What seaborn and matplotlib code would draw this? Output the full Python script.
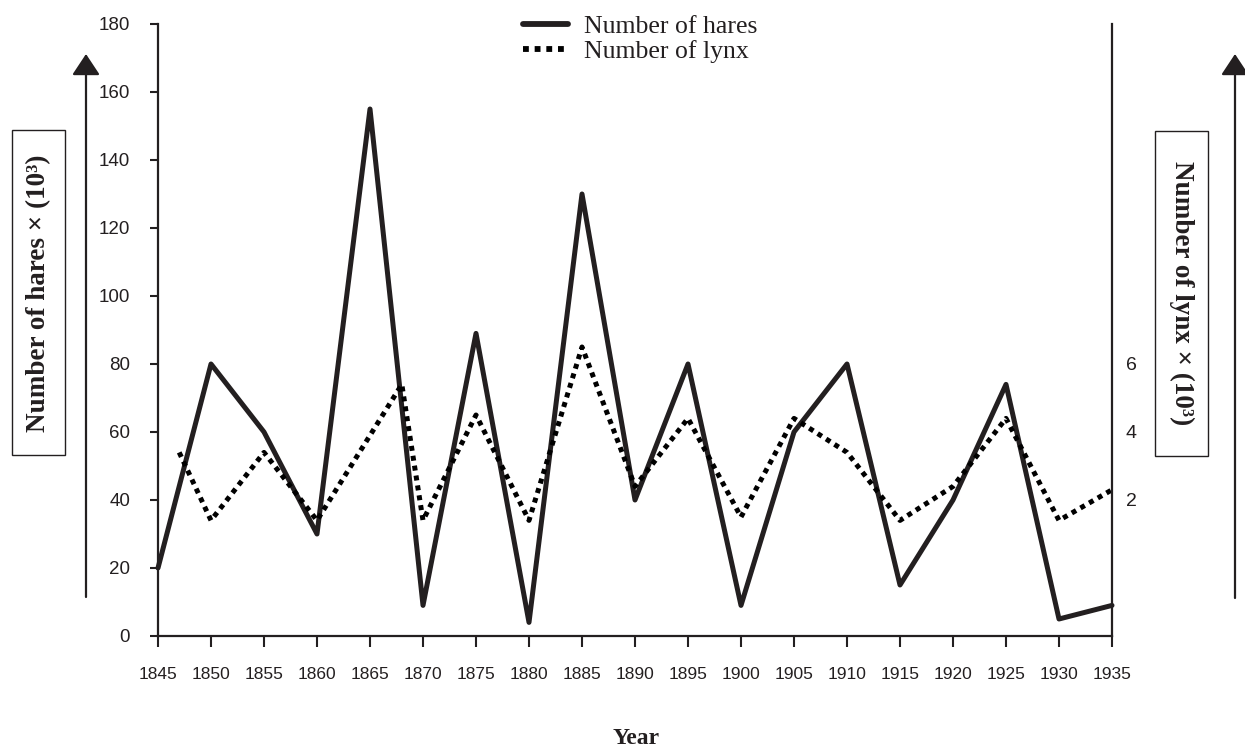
import matplotlib
matplotlib.use("Agg")
import matplotlib.pyplot as plt
import seaborn as sns
from matplotlib.patches import Rectangle, FancyArrowPatch
from matplotlib.lines import Line2D

# ---------------- data ----------------
hare_years = [1845, 1850, 1855, 1860, 1865, 1870, 1875, 1880, 1885, 1890,
              1895, 1900, 1905, 1910, 1915, 1920, 1925, 1930, 1935]
hares = [20, 80, 60, 30, 155, 9, 89, 4, 130, 40,
         80, 9, 60, 80, 15, 40, 74, 5, 9]          # x 10^3

lynx_years = [1847, 1850, 1855, 1860, 1868, 1870, 1875, 1880, 1885, 1890,
              1895, 1900, 1905, 1910, 1915, 1920, 1925, 1930, 1935]
lynx = [3.4, 1.4, 3.4, 1.4, 5.4, 1.4, 4.5, 1.4, 6.5, 2.4,
        4.4, 1.5, 4.4, 3.4, 1.4, 2.4, 4.4, 1.4, 2.3]  # x 10^3

x_ticks = list(range(1845, 1940, 5))
hare_ticks = list(range(0, 200, 20))
lynx_ticks = [2, 4, 6]

legend_labels = ["Number of hares", "Number of lynx"]
hare_label = "Number of hares × (10³)"
lynx_label = "Number of lynx × (10³)"
x_label = "Year"

# ---------------- style ----------------
sns.set_style("white")
INK = "#231f20"
plt.rcParams["font.family"] = ["Liberation Sans", "DejaVu Sans"]
SERIF = ["Liberation Serif", "DejaVu Serif"]

W, H = 1245, 750
fig = plt.figure(figsize=(W / 100, H / 100), dpi=100)
fig.patch.set_facecolor("white")


def fx(px):
    return px / W


def fy(py):
    return 1 - py / H


ax = fig.add_axes([fx(158), fy(636), fx(1112 - 158), (636 - 24) / H])
ax.set_facecolor("none")

sns.lineplot(x=hare_years, y=hares, ax=ax, color=INK, linewidth=3.6,
             solid_joinstyle="round", solid_capstyle="round", clip_on=False)

ax.set_xlim(1845, 1935)
ax.set_ylim(0, 180)
ax.set_xticks(x_ticks)
ax.set_xticklabels([str(t) for t in x_ticks], fontsize=12.5, color=INK)
ax.set_yticks(hare_ticks)
ax.set_yticklabels([str(t) for t in hare_ticks], fontsize=13.5, color=INK)
ax.tick_params(axis="x", direction="out", length=8, width=1.5, color=INK,
               pad=14, bottom=True)
ax.tick_params(axis="y", direction="out", length=6, width=1.5, color=INK,
               pad=14, left=True)
for s in ["top", "right"]:
    ax.spines[s].set_visible(False)
for s in ["left", "bottom"]:
    ax.spines[s].set_color(INK)
    ax.spines[s].set_linewidth(1.6)
ax.set_xlabel("")
ax.set_ylabel("")

ax2 = ax.twinx()
ax2.set_facecolor("none")
sns.lineplot(x=lynx_years, y=lynx, ax=ax2, color="black", linewidth=3.6,
             linestyle=(0, (1, 1)), clip_on=False)
ax2.set_ylim(-2, 16)
ax2.set_yticks(lynx_ticks)
ax2.set_yticklabels([str(t) for t in lynx_ticks], fontsize=14, color=INK)
ax2.tick_params(axis="y", length=0, pad=10, right=True)
for s in ["top", "left", "bottom"]:
    ax2.spines[s].set_visible(False)
ax2.spines["right"].set_color(INK)
ax2.spines["right"].set_linewidth(1.6)
ax2.set_ylabel("")

# legend
handles = [Line2D([], [], color=INK, lw=4.2, solid_capstyle="round"),
           Line2D([], [], color="black", lw=4.2, linestyle=(0, (1, 1)))]
fig.legend(handles, legend_labels, loc="upper center",
           bbox_to_anchor=(fx(640), fy(0)), frameon=False,
           prop={"family": SERIF, "size": 18.5}, handlelength=1.75,
           handletextpad=0.6, labelspacing=0.05, borderpad=0.1,
           labelcolor=INK)

# x label
fig.text(fx(636), fy(738), x_label, family=SERIF, fontweight="bold",
         fontsize=17, color=INK, ha="center", va="center")

# left boxed label and arrow
fig.add_artist(Rectangle((fx(12), fy(455)), fx(65 - 12), (455 - 130) / H,
                         transform=fig.transFigure, fill=False,
                         edgecolor=INK, linewidth=1.0))
fig.text(fx(39), fy(293), hare_label, family=SERIF, fontweight="bold",
         fontsize=19.5, color=INK, rotation=90, ha="center", va="center")
fig.add_artist(FancyArrowPatch((fx(86), fy(597)), (fx(86), fy(54)),
                               transform=fig.transFigure,
                               arrowstyle="-|>,head_length=0.65,head_width=0.43",
                               mutation_scale=20, color=INK, lw=1.6,
                               shrinkA=0, shrinkB=0))

# right boxed label and arrow
fig.add_artist(Rectangle((fx(1155), fy(456)), fx(1208 - 1155), (456 - 131) / H,
                         transform=fig.transFigure, fill=False,
                         edgecolor=INK, linewidth=1.0))
fig.text(fx(1182), fy(293), lynx_label, family=SERIF, fontweight="bold",
         fontsize=19.5, color=INK, rotation=-90, ha="center", va="center")
fig.add_artist(FancyArrowPatch((fx(1235), fy(598)), (fx(1235), fy(54)),
                               transform=fig.transFigure,
                               arrowstyle="-|>,head_length=0.65,head_width=0.43",
                               mutation_scale=20, color=INK, lw=1.6,
                               shrinkA=0, shrinkB=0))

fig.savefig("out.png", dpi=100, facecolor="white")
